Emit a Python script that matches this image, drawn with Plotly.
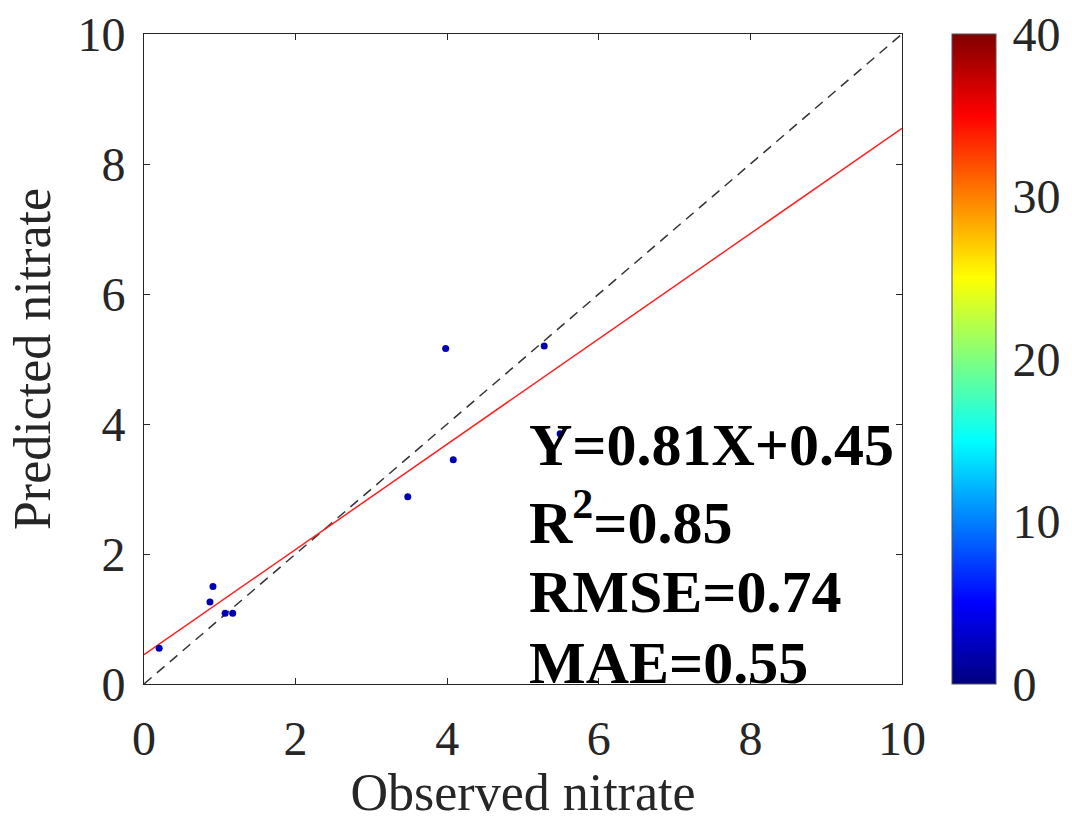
import plotly.graph_objects as go

# ---- data ----
observed = [0.20, 0.87, 0.91, 1.07, 1.17, 3.48, 3.98, 4.08, 5.28, 5.49]
predicted = [0.55, 1.26, 1.50, 1.09, 1.09, 2.88, 5.16, 3.45, 5.20, 3.85]
density = [2, 2, 2, 2, 2, 2, 2, 2, 2, 2]
slope = 0.81
intercept = 0.45
stats_lines = ["Y=0.81X+0.45", "R<sup>2</sup>=0.85", "RMSE=0.74", "MAE=0.55"]
stats_y = [3.68, 2.55, 1.42, 0.32]
axis_ticks = [0, 2, 4, 6, 8, 10]
cbar_ticks = [0, 10, 20, 30, 40]
cbar_min, cbar_max = 0, 40
fit_x = [0, 10]
fit_y = [slope * v + intercept for v in fit_x]
ref_xy = [0, 10]

jet = [
    [0.0, "rgb(0,0,128)"],
    [0.125, "rgb(0,0,255)"],
    [0.375, "rgb(0,255,255)"],
    [0.625, "rgb(255,255,0)"],
    [0.875, "rgb(255,0,0)"],
    [1.0, "rgb(128,0,0)"],
]

FONT = "Liberation Serif, Times New Roman, serif"
DARK = "#262626"

W, H = 1072, 821
ML, MR, MT, MB = 144, 170, 34, 137
plot_w = W - ML - MR
CB_X = 1.066           # colorbar left edge (paper fraction)
CB_THICK = 44

fig = go.Figure()

fig.add_trace(go.Scatter(
    x=ref_xy, y=ref_xy, mode="lines",
    line=dict(color="#333333", width=1.5, dash="10px,7px"),
    showlegend=False, hoverinfo="skip",
))
fig.add_trace(go.Scatter(
    x=fit_x, y=fit_y, mode="lines",
    line=dict(color="#ff2020", width=1.5),
    showlegend=False, hoverinfo="skip",
))
fig.add_trace(go.Scatter(
    x=observed, y=predicted, mode="markers",
    marker=dict(
        size=7, color=density, colorscale=jet, cmin=cbar_min, cmax=cbar_max,
        line=dict(width=0),
        colorbar=dict(
            x=CB_X, xanchor="left", xref="paper", xpad=0, ypad=0,
            y=0.5, yanchor="middle", len=1.0, lenmode="fraction",
            thickness=CB_THICK, outlinewidth=1, outlinecolor="#555555",
            tickvals=cbar_ticks, ticks="outside", ticklen=7, tickcolor="rgba(0,0,0,0)",
            tickfont=dict(family=FONT, size=48, color=DARK),
        ),
    ),
    showlegend=False,
))

# inside tick marks on the colorbar's right edge
cb_right = CB_X + CB_THICK / plot_w
for t in cbar_ticks[1:-1]:
    yy = 10 * (t - cbar_min) / (cbar_max - cbar_min)
    fig.add_shape(type="line", xref="paper", yref="y",
                  x0=cb_right - 5 / plot_w, x1=cb_right, y0=yy, y1=yy,
                  line=dict(color=DARK, width=1))

for txt, yy in zip(stats_lines, stats_y):
    fig.add_annotation(
        x=5.05, y=yy, xref="x", yref="y", text="<b>" + txt + "</b>",
        showarrow=False, xanchor="left", yanchor="middle",
        font=dict(family=FONT, size=60, color="black"),
    )

axis_common = dict(
    range=[0, 10], tickvals=axis_ticks, showgrid=False, zeroline=False,
    showline=True, linecolor=DARK, linewidth=1, mirror="ticks",
    ticks="inside", ticklen=6, tickcolor=DARK,
    tickfont=dict(family=FONT, size=48, color=DARK),
)

fig.update_xaxes(
    **axis_common,
    title=dict(text="Observed nitrate", font=dict(family=FONT, size=52, color=DARK), standoff=12),
    ticklabelstandoff=12,
)
fig.update_yaxes(
    **axis_common,
    title=dict(text="Predicted nitrate", font=dict(family=FONT, size=52, color=DARK), standoff=10),
    ticklabelstandoff=8,
)

fig.update_layout(
    width=W, height=H,
    margin=dict(l=ML, r=MR, t=MT, b=MB, autoexpand=False),
    paper_bgcolor="white", plot_bgcolor="white",
    font=dict(family=FONT, color=DARK),
)

fig.write_html(
    "out.html",
    config={"displayModeBar": False},
    post_script="document.body.style.margin='0';document.body.style.overflow='hidden';",
)
